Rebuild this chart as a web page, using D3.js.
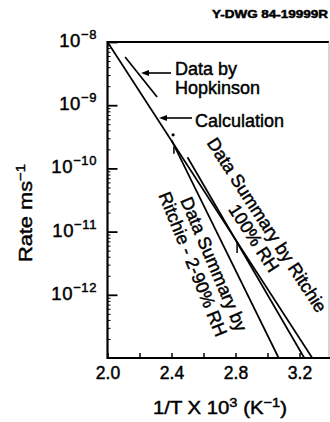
<!DOCTYPE html>
<html>
<head>
<meta charset="utf-8">
<script src="https://cdn.jsdelivr.net/npm/d3@7"></script>
<style>
  html, body { margin: 0; padding: 0; background: #fff; }
  svg { display: block; font-family: "Liberation Sans", Arial, Helvetica, sans-serif; }
  svg text { stroke: #000; stroke-width: 0.45px; }
</style>
</head>
<body>
<div id="chart"></div>
<script>
// ticks
const xMajorTicks = [2.0, 2.4, 2.8, 3.2];
const xAllTicks = [2.0, 2.2, 2.4, 2.6, 2.8, 3.0, 3.2];
const yTickExponents = [-8, -9, -10, -11, -12];

// lines, [1/T x 10^3, rate m/s]
const calculation = [[2.0, 1e-8], [3.28, 1e-13]];
const hopkinson = [[2.11, 5.8e-9], [2.31, 1.35e-9]];
const ritchie100 = [[2.50, 1.5e-10], [3.23, 1e-13]];
const ritchie290 = [[2.40, 2.8e-10], [3.07, 1e-13]];

// little error bars / points marked on the lines
const errorBars = [[2.415, 1.7e-10, 2.2e-10], [2.81, 4.6e-12, 6.9e-12]];
const points = [[2.41, 3.4e-10]];

const w = 330;
const h = 422;
const mLeft = 107.5, mRight = 329, mTop = 42, mBottom = 358;

const x = d3.scaleLinear().domain([2.0, 3.4]).range([mLeft, mLeft + 1.4 * 160]);
const y = d3.scaleLog().domain([1e-13, 1e-8]).range([mBottom, mTop]);

const svg = d3.select("#chart")
  .append("svg")
  .attr("width", w)
  .attr("height", h);

// frame
svg.append("line").attr("x1", mLeft).attr("x2", mRight).attr("y1", mTop).attr("y2", mTop)
  .attr("stroke", "#000").attr("stroke-width", 1.8);
svg.append("line").attr("x1", mRight).attr("x2", mRight).attr("y1", mTop).attr("y2", mBottom)
  .attr("stroke", "#aaa").attr("stroke-width", 1);
svg.append("line").attr("x1", mLeft).attr("x2", mLeft).attr("y1", mTop - 1).attr("y2", mBottom + 1)
  .attr("stroke", "#000").attr("stroke-width", 2.2);
svg.append("line").attr("x1", mLeft).attr("x2", mRight + 2).attr("y1", mBottom).attr("y2", mBottom)
  .attr("stroke", "#000").attr("stroke-width", 2.2);

// x axis
const xAxis = d3.axisBottom(x)
  .tickValues(xAllTicks)
  .tickSizeInner(-5)
  .tickSizeOuter(0)
  .tickPadding(9)
  .tickFormat(d => xMajorTicks.includes(d) ? d3.format(".1f")(d) : "");

const gx = svg.append("g")
  .attr("transform", `translate(0, ${mBottom})`)
  .call(xAxis);
gx.select(".domain").remove();
gx.selectAll("line").attr("stroke-width", 1.5);
gx.selectAll("text").attr("font-size", 17.5).attr("font-family", null).attr("fill", "#000");

// y axis, major + minor ticks
const yMinor = [];
for (let e = -13; e < -8; e++) for (let m = 2; m < 10; m++) yMinor.push(m * Math.pow(10, e));

const gyMinor = svg.append("g")
  .attr("transform", `translate(${mLeft}, 0)`)
  .call(d3.axisLeft(y).tickValues(yMinor).tickSizeInner(-3).tickSizeOuter(0).tickFormat(""));
gyMinor.select(".domain").remove();
gyMinor.selectAll("line").attr("stroke-width", 1);

const gy = svg.append("g")
  .attr("transform", `translate(${mLeft}, 0)`)
  .call(d3.axisLeft(y).tickValues(yTickExponents.map(e => Math.pow(10, e)))
    .tickSizeInner(-10).tickSizeOuter(0).tickFormat(""));
gy.select(".domain").remove();
gy.selectAll("line").attr("stroke-width", 1.8);

// y tick labels 10^-n
const yLab = svg.append("g").attr("font-size", 18.5).attr("fill", "#000");
yTickExponents.forEach(e => {
  const t = yLab.append("text")
    .attr("x", 97)
    .attr("y", y(Math.pow(10, e)) + 5)
    .attr("text-anchor", "end")
    .attr("letter-spacing", 0.6);
  t.append("tspan").text("10");
  t.append("tspan").attr("dy", -8).attr("font-size", 13).text("\u2212" + (-e));
});

// axis titles
const yt = svg.append("text")
  .attr("transform", "translate(32, 213) rotate(-90)")
  .attr("text-anchor", "middle")
  .attr("font-size", 19)
  .attr("textLength", 98)
  .attr("lengthAdjust", "spacingAndGlyphs");
yt.append("tspan").text("Rate ms");
yt.append("tspan").attr("dy", -7).attr("font-size", 13).text("\u22121");

const xt = svg.append("text")
  .attr("x", 220)
  .attr("y", 414)
  .attr("text-anchor", "middle")
  .attr("font-size", 18)
  .attr("textLength", 134)
  .attr("lengthAdjust", "spacingAndGlyphs");
xt.append("tspan").text("1/T X 10");
xt.append("tspan").attr("dy", -7).attr("font-size", 13).text("3");
xt.append("tspan").attr("dy", 7).text(" (K");
xt.append("tspan").attr("dy", -7).attr("font-size", 13).text("\u22121");
xt.append("tspan").attr("dy", 7).text(")");

svg.append("text")
  .attr("x", 212)
  .attr("y", 18)
  .attr("font-size", 10)
  .attr("font-weight", "bold")
  .attr("stroke-width", 0.2)
  .attr("textLength", 116)
  .attr("lengthAdjust", "spacingAndGlyphs")
  .text("Y-DWG 84-19999R");

// data lines
const line = d3.line().x(d => x(d[0])).y(d => y(d[1]));
[calculation, hopkinson, ritchie100, ritchie290].forEach(s => {
  svg.append("path")
    .datum(s)
    .attr("d", line)
    .attr("fill", "none")
    .attr("stroke", "#000")
    .attr("stroke-width", 1.7);
});

svg.selectAll(".eb")
  .data(errorBars)
  .enter()
  .append("line")
  .attr("x1", d => x(d[0]))
  .attr("x2", d => x(d[0]))
  .attr("y1", d => y(d[1]))
  .attr("y2", d => y(d[2]))
  .attr("stroke", "#000")
  .attr("stroke-width", 1.5);

svg.selectAll(".pt")
  .data(points)
  .enter()
  .append("circle")
  .attr("cx", d => x(d[0]))
  .attr("cy", d => y(d[1]))
  .attr("r", 1.6)
  .attr("fill", "#000");

// annotations
const ann = svg.append("g").attr("font-size", 18).attr("fill", "#000");
ann.append("text").attr("x", 175).attr("y", 75).text("Data by");
ann.append("text").attr("x", 175).attr("y", 94).attr("textLength", 85).text("Hopkinson");
ann.append("text").attr("x", 195).attr("y", 127).text("Calculation");

function arrow(x1, x2, yy) {
  svg.append("line").attr("x1", x1).attr("x2", x2 + 6).attr("y1", yy).attr("y2", yy)
    .attr("stroke", "#000").attr("stroke-width", 1.6);
  svg.append("path")
    .attr("d", `M${x2},${yy}L${x2 + 8},${yy - 3}L${x2 + 8},${yy + 3}Z`)
    .attr("fill", "#000");
}
arrow(171, 141, 73);
arrow(192, 159, 118);

function rotLabel(text, cx, cy, angle) {
  ann.append("text")
    .attr("transform", `translate(${cx}, ${cy}) rotate(${angle})`)
    .attr("text-anchor", "middle")
    .attr("dy", "0.35em")
    .text(text);
}
rotLabel("Data Summary by Ritchie", 267, 225, 57);
rotLabel("100% RH", 254, 238, 57);
rotLabel("Data Summary by", 214, 264, 67);
rotLabel("Ritchie - 2-90% RH", 193, 264, 68);
</script>
</body>
</html>
